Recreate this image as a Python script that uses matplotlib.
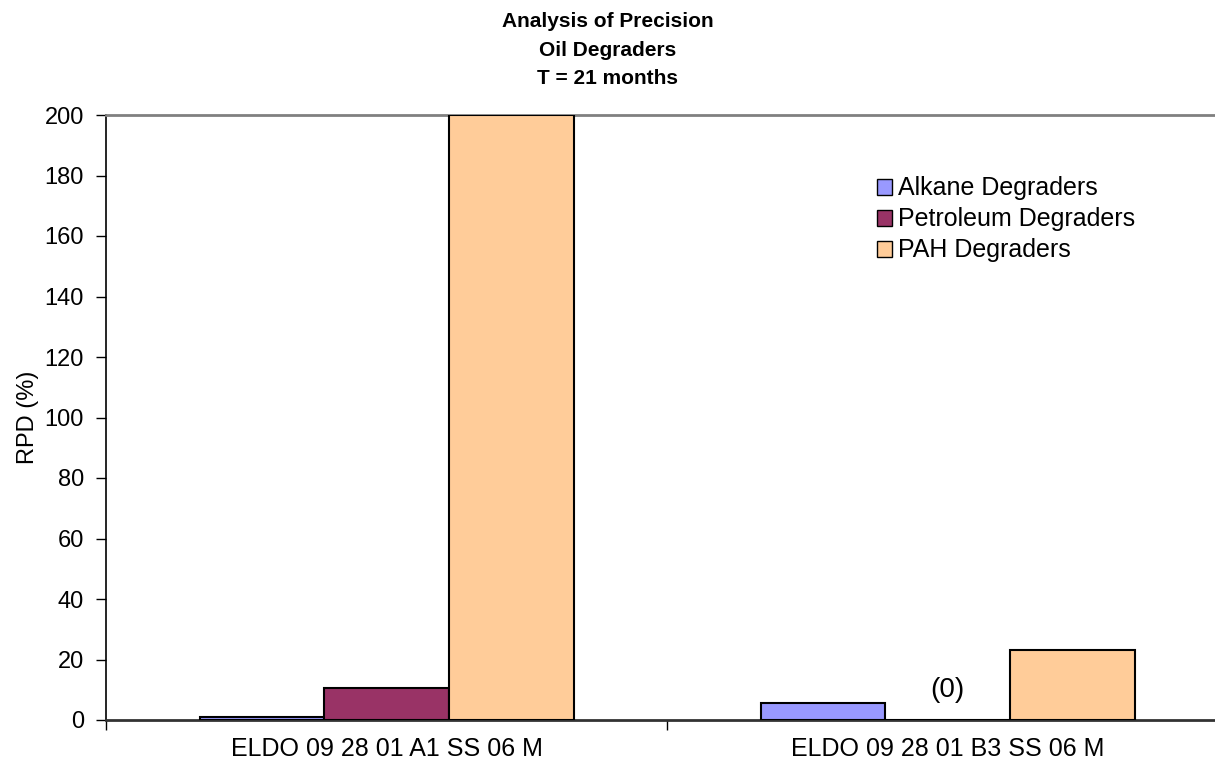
import numpy as np
import matplotlib
matplotlib.use("Agg")
import matplotlib.pyplot as plt
from matplotlib.patches import Patch

plt.rcParams["font.family"] = ["Liberation Sans", "DejaVu Sans"]

# data
samples = ["ELDO 09 28 01 A1 SS 06 M", "ELDO 09 28 01 B3 SS 06 M"]
series = ["Alkane Degraders", "Petroleum Degraders", "PAH Degraders"]
alkane = [1.1, 5.6]
petroleum = [10.7, 0.0]
pah = [200.0, 23.0]
colors = ["#9999FF", "#993366", "#FFCC99"]
yticks = [0, 20, 40, 60, 80, 100, 120, 140, 160, 180, 200]

fig = plt.figure(figsize=(12.15, 7.68), dpi=100)
ax = fig.add_axes([106 / 1215, 48 / 768, 1122 / 1215, 605 / 768])

x = np.arange(len(samples))
w = 1.0 / 4.5  # excel gap width 150%
for i, (vals, c) in enumerate(zip([alkane, petroleum, pah], colors)):
    ax.bar(x + (i - 1) * w, vals, w, color=c, edgecolor="black", linewidth=1.5, zorder=3)

# zero-value note for petroleum in the second group
ax.text(x[1], 10, "(0)", ha="center", va="center", fontsize=20)

ax.set_xlim(-0.5, 1.5)
ax.set_ylim(0, 200)
ax.set_yticks(yticks)
ax.tick_params(axis="y", labelsize=17, length=7, width=1, direction="out", pad=9)
ax.set_xticks([-0.5, 0.5, 1.5])
ax.set_xticklabels([])
ax.tick_params(axis="x", length=7, width=1, direction="out")
ax.set_xticks(x, minor=True)
ax.set_xticklabels(samples, minor=True, fontsize=18)
ax.tick_params(axis="x", which="minor", length=0, pad=12)

ax.set_ylabel("RPD (%)", fontsize=17, labelpad=4)

ax.spines["right"].set_visible(False)
ax.spines["top"].set_color("#808080")
ax.spines["top"].set_linewidth(2)
ax.spines["bottom"].set_color("#333333")
ax.spines["bottom"].set_linewidth(2)
ax.spines["left"].set_linewidth(1.2)

handles = [Patch(facecolor=c, edgecolor="black", label=s) for c, s in zip(colors, series)]
ax.legend(handles=handles, loc="upper left", bbox_to_anchor=(0.678, 0.915),
          frameon=False, fontsize=18, handlelength=0.6, handleheight=0.6,
          handletextpad=0.25, labelspacing=0.28, borderaxespad=0)

fig.text(0.5, 1 - 50 / 768, "Analysis of Precision\nOil Degraders\nT = 21 months",
         ha="center", va="center", fontsize=15, fontweight="bold", linespacing=1.65)

fig.savefig("out.png", dpi=100)
